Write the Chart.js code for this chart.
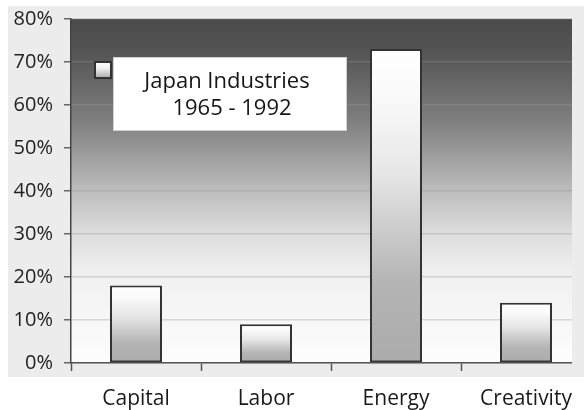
<!DOCTYPE html>
<html>
<head>
<meta charset="utf-8">
<script src="https://cdn.jsdelivr.net/npm/chart.js@4/dist/chart.umd.min.js"></script>
<style>
html, body { margin: 0; padding: 0; background: #fff; }
</style>
</head>
<body>
<canvas id="grafico" width="584" height="410"></canvas>
<script>
// Dados do grafico
const categorias = ['Capital', 'Labor', 'Energy', 'Creativity'];
const valores = [18, 9, 73, 14];
const legendaTexto = ['Japan Industries', '1965 - 1992'];
const yMin = 0;
const yMax = 80;
const yStep = 10;

Chart.defaults.font.family = "'Open Sans', 'DejaVu Sans', sans-serif";

const plotRight = 572;

// fundo cinza + gradiente da area do grafico
const fundoPlugin = {
    id: 'fundo',
    afterLayout: (chart) => {
        // o eixo x passa um pouco da borda direita (como no original)
        const x = chart.scales.x;
        x.right = chart.width + 7;
        x.width = x.right - x.left;
        x.configure();
    },
    beforeDraw: (chart) => {
        const c = chart.ctx;
        const a = chart.chartArea;
        c.save();
        c.fillStyle = '#ffffff';
        c.fillRect(0, 0, chart.width, chart.height);
        c.fillStyle = '#ececec';
        c.fillRect(8, 6, chart.width - 8, 371);
        const g = c.createLinearGradient(0, a.top, 0, a.bottom);
        g.addColorStop(0, '#4a4a4a');
        g.addColorStop(0.1, '#555555');
        g.addColorStop(0.3, '#808080');
        g.addColorStop(0.5, '#bdbdbd');
        g.addColorStop(0.625, '#dedede');
        g.addColorStop(0.75, '#f1f1f1');
        g.addColorStop(1, '#fdfdfd');
        c.fillStyle = g;
        c.fillRect(a.left, a.top, plotRight - a.left, a.bottom - a.top);
        c.restore();
    },
    beforeDatasetsDraw: (chart) => {
        // esconde o que passa da borda direita
        const c = chart.ctx;
        const a = chart.chartArea;
        c.save();
        c.fillStyle = '#ececec';
        c.fillRect(plotRight, 6, chart.width - plotRight, a.bottom + 2 - 6);
        c.restore();
    }
};

// caixa da legenda
const legendaPlugin = {
    id: 'legendaCaixa',
    afterDatasetsDraw: (chart) => {
        const c = chart.ctx;
        const a = chart.chartArea;
        const bx = a.left + 42, by = a.top + 38, bw = 234, bh = 74;
        c.save();
        c.fillStyle = '#ffffff';
        c.strokeStyle = '#d0d0d0';
        c.lineWidth = 1;
        c.fillRect(bx, by, bw, bh);
        c.strokeRect(bx + 0.5, by + 0.5, bw - 1, bh - 1);

        // marcador
        const mx = a.left + 24, my = a.top + 43, ms = 16;
        const g = c.createLinearGradient(0, my, 0, my + ms);
        g.addColorStop(0, '#ffffff');
        g.addColorStop(0.4, '#f0f0f0');
        g.addColorStop(1, '#a8a8a8');
        c.fillStyle = g;
        c.fillRect(mx, my, ms, ms);
        c.strokeStyle = '#333333';
        c.lineWidth = 2;
        c.strokeRect(mx, my, ms, ms);

        c.fillStyle = '#161616';
        c.font = "22px 'Open Sans', 'DejaVu Sans', sans-serif";
        c.textAlign = 'center';
        c.textBaseline = 'alphabetic';
        c.fillText(legendaTexto[0], bx + 114, by + 31);
        c.fillText(legendaTexto[1], bx + 119, by + 58);
        c.restore();
    }
};

const config = {
    type: 'bar',
    data: {
        labels: categorias,
        datasets: [{
            label: legendaTexto.join(' '),
            data: valores,
            backgroundColor: (ctx) => {
                const chart = ctx.chart;
                if (!chart.chartArea || ctx.type !== 'data') {
                    return '#dddddd';
                }
                const y = chart.scales.y;
                const top = y.getPixelForValue(ctx.raw);
                const base = y.getPixelForValue(0);
                const g = chart.ctx.createLinearGradient(0, top, 0, base);
                g.addColorStop(0, '#ffffff');
                g.addColorStop(0.15, '#fafafa');
                g.addColorStop(0.4, '#e6e6e6');
                g.addColorStop(0.6, '#c8c8c8');
                g.addColorStop(0.75, '#b4b4b4');
                g.addColorStop(1, '#ababab');
                return g;
            },
            borderColor: '#333333',
            borderWidth: 2,
            borderSkipped: false,
            categoryPercentage: 1,
            barPercentage: 0.4
        }]
    },
    options: {
        responsive: false,
        animation: false,
        devicePixelRatio: 1,
        layout: {
            padding: { top: 19, right: 0, left: 0, bottom: 0 }
        },
        plugins: {
            legend: { display: false },
            tooltip: { enabled: false }
        },
        scales: {
            x: {
                offset: true,
                grid: {
                    display: true,
                    offset: true,
                    drawOnChartArea: false,
                    drawTicks: true,
                    tickLength: 8,
                    tickColor: '#555555',
                    tickWidth: 1.5
                },
                border: { color: '#555555', width: 1.5 },
                ticks: {
                    color: '#1a1a1a',
                    font: { size: 21 },
                    padding: 15,
                    maxRotation: 0,
                    autoSkip: false
                },
                afterFit: (scale) => { scale.height = 47; }
            },
            y: {
                min: yMin,
                max: yMax,
                grid: {
                    color: 'rgba(150,150,150,0.35)',
                    lineWidth: 1.5,
                    tickLength: 7,
                    tickColor: '#666666'
                },
                border: { color: '#444444', width: 1.5 },
                ticks: {
                    stepSize: yStep,
                    color: '#222222',
                    font: { size: 20 },
                    padding: 11,
                    callback: (v) => v + '%'
                },
                afterFit: (scale) => {
                    scale.width = 71;
                    scale.paddingTop = 0;
                    scale.paddingBottom = 0;
                }
            }
        }
    },
    plugins: [fundoPlugin, legendaPlugin]
};

new Chart(document.getElementById('grafico'), config);
</script>
</body>
</html>
